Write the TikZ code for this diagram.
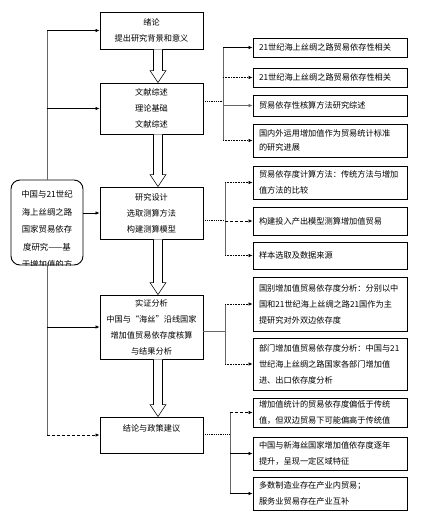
\documentclass[tikz,border=0pt]{standalone}
\usepackage{fontspec}
\setmainfont{Noto Sans CJK SC}
\usetikzlibrary{arrows.meta,calc}
\newcommand\fsz{\fontsize{8.2}{16}\selectfont}
\newcommand\hollowarr[2]{%
  \path ($(#1.south)+(6.5,0)$) coordinate (ha) ($(#2.north)+(6.5,0)$) coordinate (hb);
  \draw[line width=0.6pt, fill=white] ($(ha)+(-4.5,0)$) -- ($(hb)+(-4.5,-12)$) -- ($(hb)+(-8,-12)$) -- (hb) -- ($(hb)+(8,-12)$) -- ($(hb)+(4.5,-12)$) -- ($(ha)+(4.5,0)$);}
\begin{document}
\begin{tikzpicture}[x=1pt,y=-1pt,
  mbox/.style={draw, line width=0.9pt, minimum width=103, align=center, inner sep=0pt, font=\fsz},
  rbox/.style={draw, line width=0.9pt, text width=142, inner xsep=6, inner ysep=0pt, align=left, font=\fsz},
  arr/.style={-{Latex[length=4pt,width=3.5pt]}, line width=0.6pt},
  trunk/.style={gray!80!black, line width=0.7pt},
  link/.style={densely dotted, line width=0.8pt}]
\useasboundingbox[fill=white] (0,0) rectangle (426,520);

% main column
\node[mbox, minimum height=37] (m1) at (151.5,30.5) {绪论\\提出研究背景和意义};
\node[mbox, minimum height=51] (m2) at (151.5,108.5) {文献综述\\理论基础\\文献综述};
\node[mbox, minimum height=52] (m3) at (151.5,213) {研究设计\\选取测算方法\\构建测算模型};
\node[mbox, minimum height=64] (m4) at (151.5,327) {实证分析\\中国与“海丝”沿线国家\\增加值贸易依存度核算\\与结果分析};
\node[mbox, minimum height=36, text depth=14pt] (m5) at (151.5,435) {结论与政策建议};

\hollowarr{m1}{m2}
\hollowarr{m2}{m3}
\hollowarr{m3}{m4}
\hollowarr{m4}{m5}

% left rounded box
\node[draw, line width=0.9pt, rounded corners=9pt, minimum width=72, minimum height=85, inner sep=0pt] (L) at (47,222.5) {};
\begin{scope}
  \clip[rounded corners=9pt] (L.north west) rectangle (L.south east);
  \node[anchor=north, align=center, inner sep=0pt, font=\fontsize{8.4}{17.5}\selectfont] (Lt) at (47,190.5) {中国与21世纪\\海上丝绸之路\\国家贸易依存\\度研究——基\\于增加值的方};
\end{scope}

% left connectors
\draw[trunk] (L.north) -- (L.north |- m1.west);
\draw[trunk] (L.south) -- (L.south |- m5.west);
\draw[arr] (L.north |- m1.west) -- (m1.west);
\draw[arr] (L.north |- m2.west) -- (m2.west);
\draw[arr] (L.east |- m3.west) -- (m3.west);
\draw[arr] (L.south |- m4.west) -- (m4.west);
\draw[arr, densely dashed, line width=0.8pt] (L.south |- m5.west) -- (m5.west);

% right group 1
\node[rbox, minimum height=19] (r11) at (330,47.5) {21世纪海上丝绸之路贸易依存性相关};
\node[rbox, minimum height=19] (r12) at (330,77.5) {21世纪海上丝绸之路贸易依存性相关};
\node[rbox, minimum height=21] (r13) at (330,105.5) {贸易依存性核算方法研究综述};
\node[rbox, minimum height=33, font=\fontsize{8.2}{13.5}\selectfont] (r14) at (330,140.5) {国内外运用增加值作为贸易统计标准\\的研究进展};
\coordinate (b1) at (223,101);
\draw[link] (m2.east |- b1) -- (b1);
\draw[trunk] (b1 |- r11.west) -- (b1 |- r14.west);
\draw[arr] (b1 |- r11.west) -- (r11.west);
\draw[arr, densely dotted] (b1 |- r12.west) -- (r12.west);
\draw[arr, gray!80!black] (b1 |- r13.west) -- (r13.west);
\draw[arr, densely dotted] (b1 |- r14.west) -- (r14.west);

% right group 2
\node[rbox, minimum height=33] (r21) at (330,182.5) {贸易依存度计算方法：传统方法与增加\\值方法的比较};
\node[rbox, minimum height=28] (r22) at (330,221) {构建投入产出模型测算增加值贸易};
\node[rbox, minimum height=27] (r23) at (330,255.5) {样本选取及数据来源};
\coordinate (b2) at (225,220);
\draw[link] (m3.east |- b2) -- (b2);
\draw[trunk] (b2 |- r21.west) -- (b2 |- r23.west);
\draw[arr, densely dotted] (b2 |- r21.west) -- (r21.west);
\draw[arr, densely dashed] (b2 |- r22.west) -- (r22.west);
\draw[arr, densely dotted] (b2 |- r23.west) -- (r23.west);

% right group 3
\node[rbox, minimum height=54] (r31) at (330,304) {国别增加值贸易依存度分析：分别以中\\国和21世纪海上丝绸之路21国作为主\\提研究对外双边依存度};
\node[rbox, minimum height=52] (r32) at (330,364) {部门增加值贸易依存度分析：中国与21\\世纪海上丝绸之路国家各部门增加值\\进、出口依存度分析};
\coordinate (b3) at (225,331);
\draw[trunk] (m4.east |- b3) -- (b3);
\draw[trunk] (b3 |- r31.west) -- (b3 |- r32.west);
\draw[arr, densely dotted] (b3 |- r31.west) -- (r31.west);
\draw[arr, densely dotted] (b3 |- r32.west) -- (r32.west);

% right group 4
\node[rbox, minimum height=29] (r41) at (330,412.5) {增加值统计的贸易依存度偏低于传统\\值，但双边贸易下可能偏高于传统值};
\node[rbox, minimum height=33] (r42) at (330,453.5) {中国与新海丝国家增加值依存度逐年\\提升，呈现一定区域特征};
\node[rbox, minimum height=33] (r43) at (330,493.5) {多数制造业存在产业内贸易；\\服务业贸易存在产业互补};
\coordinate (b4) at (230,434);
\draw[link] (m5.east |- b4) -- (b4);
\draw[trunk] (b4 |- r41.west) -- (b4 |- r43.west);
\draw[arr, densely dashed] (b4 |- r41.west) -- (r41.west);
\draw[arr] (b4 |- r42.west) -- (r42.west);
\draw[arr] (b4 |- r43.west) -- (r43.west);
\end{tikzpicture}
\end{document}
